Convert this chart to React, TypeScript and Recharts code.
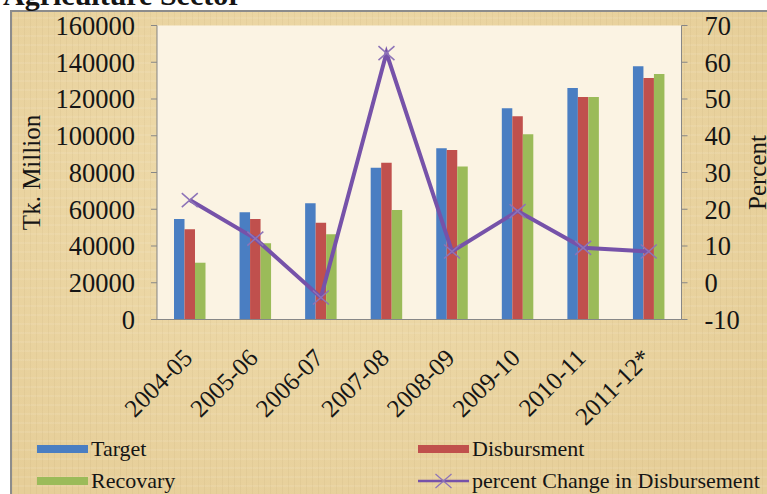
import React from "react";
import { ComposedChart, Bar, Line, XAxis, YAxis, CartesianGrid } from "recharts";

// Agricultural credit, Tk. million, by fiscal year
const years = ["2004-05", "2005-06", "2006-07", "2007-08", "2008-09", "2009-10", "2010-11", "2011-12*"];
const target = [54700, 58300, 63200, 82600, 93200, 114900, 126000, 137800];
const disbursment = [49100, 54700, 52700, 85300, 92200, 110600, 121100, 131400];
const recovary = [30900, 41500, 46400, 59600, 83200, 100800, 121100, 133600];
const pctChange = [22.5, 12, -4, 62.5, 8.5, 19.5, 9.5, 8.5];

const amountTicks = [0, 20000, 40000, 60000, 80000, 100000, 120000, 140000, 160000];
const pctTicks = [-10, 0, 10, 20, 30, 40, 50, 60, 70];
const legendNames = ["Target", "Disbursment", "Recovary", "percent Change in Disbursement"];

const data = years.map((year, i) => ({
  year,
  target: target[i],
  disbursment: disbursment[i],
  recovary: recovary[i],
  pct: pctChange[i],
}));

const BLUE = "#4A7EC2";
const RED = "#C0504D";
const GREEN = "#9BBB59";
const PURPLE = "#7652A9";
const MARKER = "#8D73B8";
const AXIS = "#878787";
const INK = "#151515";
const FONT = "'Liberation Serif', 'Times New Roman', serif";

const crossPath = (cx: number, cy: number) =>
  `M${cx - 8},${cy - 7}L${cx + 8},${cy + 7}M${cx - 8},${cy + 7}L${cx + 8},${cy - 7}`;

const CrossDot = (props: any) => {
  const { cx, cy, index } = props;
  if (cx == null || cy == null) return <g key={`d-${index}`} />;
  return <path key={`d-${index}`} d={crossPath(cx, cy)} stroke={MARKER} strokeWidth={1.5} fill="none" />;
};

const AngledTick = (props: any) => {
  const { x, y, payload } = props;
  return (
    <g transform={`translate(${x + 4},${y + 40})`}>
      <text textAnchor="end" transform="rotate(-45)" fontSize={25} fontFamily={FONT} fill={INK}>
        {payload.value}
      </text>
    </g>
  );
};

const LegendBlock = () => {
  const colors = [BLUE, RED, GREEN];
  const cols = [37, 418];
  const rows = [449, 481];
  return (
    <svg width={767} height={494} style={{ position: "absolute", left: 0, top: 0, pointerEvents: "none" }}>
      {legendNames.map((name, i) => {
        const x = cols[i % 2];
        const y = rows[Math.floor(i / 2)];
        const isLine = i === 3;
        return (
          <g key={name}>
            {isLine ? (
              <>
                <line x1={x} x2={x + 51} y1={y} y2={y} stroke={PURPLE} strokeWidth={2.5} />
                <path d={crossPath(x + 25.5, y)} stroke={MARKER} strokeWidth={1.2} fill="none" />
              </>
            ) : (
              <rect x={x} y={y - 4} width={51} height={8} fill={colors[i]} />
            )}
            <text x={x + 54} y={y + 7} fontSize={22} fontFamily={FONT} fill={INK}>
              {name}
            </text>
          </g>
        );
      })}
    </svg>
  );
};

export default function App() {
  return (
    <div style={{ position: "absolute", left: 0, top: 0, width: 767, height: 494, overflow: "hidden", background: "#fff" }}>
      <div
        style={{
          position: "absolute",
          left: 10,
          top: 10,
          width: 800,
          height: 520,
          borderLeft: "2.5px solid #8c8c8c",
          borderTop: "2.5px solid #8c8c8c",
          background:
            "repeating-linear-gradient(90deg, rgba(120,90,40,0.05) 0px, rgba(120,90,40,0.05) 1px, transparent 1px, transparent 6px)," +
            "repeating-linear-gradient(0deg, rgba(255,255,255,0.08) 0px, rgba(255,255,255,0.08) 2px, transparent 2px, transparent 9px)," +
            "radial-gradient(ellipse at 40% 35%, #F0DDAE 0%, #E6CE98 75%)",
        }}
      />
      <svg width={767} height={30} style={{ position: "absolute", left: 0, top: 0 }}>
        <text x={3} y={5} fontSize={30} fontWeight="bold" fontFamily={FONT} fill={INK}>
          Agriculture Sector
        </text>
      </svg>
      <div style={{ position: "absolute", left: 0, top: 0 }}>
        <ComposedChart
          width={767}
          height={494}
          data={data}
          margin={{ top: 25.5, right: 0, bottom: 0, left: 0 }}
          barSize={10.5}
          barGap={0}
        >
          <CartesianGrid horizontal={false} vertical={false} fill="#FBF3E3" yAxisId="amt" />
          <XAxis
            dataKey="year"
            height={174.5}
            interval={0}
            tickLine={false}
            tickSize={0}
            tickMargin={0}
            axisLine={{ stroke: AXIS }}
            tick={<AngledTick />}
          />
          <YAxis
            yAxisId="amt"
            width={157}
            domain={[0, 160000]}
            ticks={amountTicks}
            interval={0}
            tickSize={6}
            tickMargin={16}
            axisLine={{ stroke: AXIS }}
            tickLine={{ stroke: AXIS }}
            tick={{ fontSize: 26.5, fill: INK, fontFamily: FONT }}
            label={{
              value: "Tk. Million",
              angle: -90,
              position: "insideLeft",
              offset: 31,
              style: { textAnchor: "middle", fontSize: 25, fill: INK, fontFamily: FONT },
            }}
          />
          <YAxis
            yAxisId="pct"
            orientation="right"
            width={85.5}
            domain={[-10, 70]}
            ticks={pctTicks}
            interval={0}
            tickSize={6}
            tickMargin={17}
            axisLine={{ stroke: AXIS }}
            tickLine={{ stroke: AXIS }}
            tick={{ fontSize: 26.5, fill: INK, fontFamily: FONT }}
            label={{
              value: "Percent",
              angle: -90,
              position: "insideRight",
              offset: 10,
              style: { textAnchor: "middle", fontSize: 25, fill: INK, fontFamily: FONT },
            }}
          />
          <Bar yAxisId="amt" dataKey="target" name="Target" fill={BLUE} isAnimationActive={false} />
          <Bar yAxisId="amt" dataKey="disbursment" name="Disbursment" fill={RED} isAnimationActive={false} />
          <Bar yAxisId="amt" dataKey="recovary" name="Recovary" fill={GREEN} isAnimationActive={false} />
          <Line
            yAxisId="pct"
            dataKey="pct"
            name="percent Change in Disbursement"
            stroke={PURPLE}
            strokeWidth={4}
            dot={CrossDot}
            activeDot={false}
            isAnimationActive={false}
          />
        </ComposedChart>
      </div>
      <LegendBlock />
    </div>
  );
}
